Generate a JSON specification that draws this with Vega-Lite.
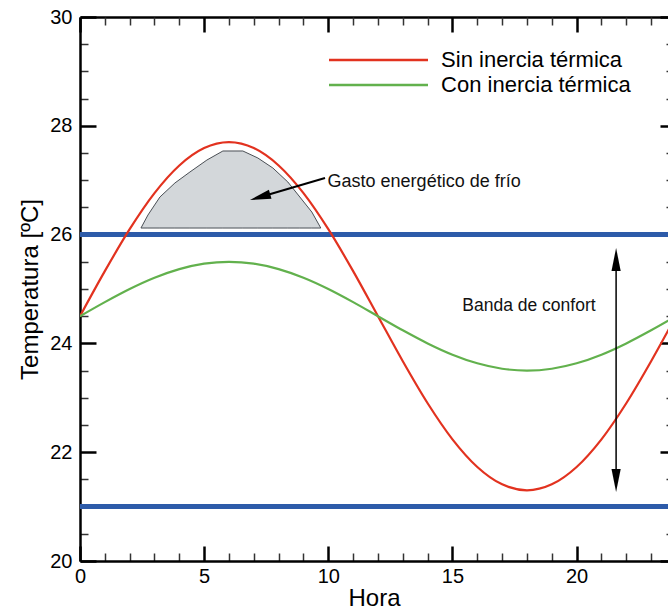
{
  "$schema": "https://vega.github.io/schema/vega-lite/v6.json",
  "width": 588,
  "height": 544,
  "autosize": {"type": "none"},
  "padding": {"left": 80, "top": 17, "right": 0, "bottom": 49},
  "background": "white",
  "config": {
    "view": {"stroke": null},
    "font": "Liberation Sans",
    "axis": {"grid": false, "labelFont": "Liberation Sans", "titleFont": "Liberation Sans", "labelColor": "black", "titleColor": "black", "domainColor": "black", "tickColor": "black", "titleFontWeight": "normal"}
  },
  "datasets": {
    "series": [
      {"hora": 0, "temp": 24.5, "serie": "Sin inercia térmica"},
      {"hora": 1, "temp": 25.328, "serie": "Sin inercia térmica"},
      {"hora": 2, "temp": 26.1, "serie": "Sin inercia térmica"},
      {"hora": 3, "temp": 26.763, "serie": "Sin inercia térmica"},
      {"hora": 4, "temp": 27.271, "serie": "Sin inercia térmica"},
      {"hora": 5, "temp": 27.591, "serie": "Sin inercia térmica"},
      {"hora": 6, "temp": 27.7, "serie": "Sin inercia térmica"},
      {"hora": 7, "temp": 27.591, "serie": "Sin inercia térmica"},
      {"hora": 8, "temp": 27.271, "serie": "Sin inercia térmica"},
      {"hora": 9, "temp": 26.763, "serie": "Sin inercia térmica"},
      {"hora": 10, "temp": 26.1, "serie": "Sin inercia térmica"},
      {"hora": 11, "temp": 25.328, "serie": "Sin inercia térmica"},
      {"hora": 12, "temp": 24.5, "serie": "Sin inercia térmica"},
      {"hora": 13, "temp": 23.672, "serie": "Sin inercia térmica"},
      {"hora": 14, "temp": 22.9, "serie": "Sin inercia térmica"},
      {"hora": 15, "temp": 22.237, "serie": "Sin inercia térmica"},
      {"hora": 16, "temp": 21.729, "serie": "Sin inercia térmica"},
      {"hora": 17, "temp": 21.409, "serie": "Sin inercia térmica"},
      {"hora": 18, "temp": 21.3, "serie": "Sin inercia térmica"},
      {"hora": 19, "temp": 21.409, "serie": "Sin inercia térmica"},
      {"hora": 20, "temp": 21.729, "serie": "Sin inercia térmica"},
      {"hora": 21, "temp": 22.237, "serie": "Sin inercia térmica"},
      {"hora": 22, "temp": 22.9, "serie": "Sin inercia térmica"},
      {"hora": 23, "temp": 23.672, "serie": "Sin inercia térmica"},
      {"hora": 24, "temp": 24.5, "serie": "Sin inercia térmica"},
      {"hora": 0, "temp": 24.5, "serie": "Con inercia térmica"},
      {"hora": 1, "temp": 24.759, "serie": "Con inercia térmica"},
      {"hora": 2, "temp": 25.0, "serie": "Con inercia térmica"},
      {"hora": 3, "temp": 25.207, "serie": "Con inercia térmica"},
      {"hora": 4, "temp": 25.366, "serie": "Con inercia térmica"},
      {"hora": 5, "temp": 25.466, "serie": "Con inercia térmica"},
      {"hora": 6, "temp": 25.5, "serie": "Con inercia térmica"},
      {"hora": 7, "temp": 25.466, "serie": "Con inercia térmica"},
      {"hora": 8, "temp": 25.366, "serie": "Con inercia térmica"},
      {"hora": 9, "temp": 25.207, "serie": "Con inercia térmica"},
      {"hora": 10, "temp": 25.0, "serie": "Con inercia térmica"},
      {"hora": 11, "temp": 24.759, "serie": "Con inercia térmica"},
      {"hora": 12, "temp": 24.5, "serie": "Con inercia térmica"},
      {"hora": 13, "temp": 24.241, "serie": "Con inercia térmica"},
      {"hora": 14, "temp": 24.0, "serie": "Con inercia térmica"},
      {"hora": 15, "temp": 23.793, "serie": "Con inercia térmica"},
      {"hora": 16, "temp": 23.634, "serie": "Con inercia térmica"},
      {"hora": 17, "temp": 23.534, "serie": "Con inercia térmica"},
      {"hora": 18, "temp": 23.5, "serie": "Con inercia térmica"},
      {"hora": 19, "temp": 23.534, "serie": "Con inercia térmica"},
      {"hora": 20, "temp": 23.634, "serie": "Con inercia térmica"},
      {"hora": 21, "temp": 23.793, "serie": "Con inercia térmica"},
      {"hora": 22, "temp": 24.0, "serie": "Con inercia térmica"},
      {"hora": 23, "temp": 24.241, "serie": "Con inercia térmica"},
      {"hora": 24, "temp": 24.5, "serie": "Con inercia térmica"}
    ],
    "gasto": [
      {"hora": 2.455, "temp": 26.121},
      {"hora": 2.736, "temp": 26.36},
      {"hora": 3.219, "temp": 26.691},
      {"hora": 3.823, "temp": 26.949},
      {"hora": 4.427, "temp": 27.151},
      {"hora": 5.111, "temp": 27.371},
      {"hora": 5.755, "temp": 27.537},
      {"hora": 6.559, "temp": 27.537},
      {"hora": 7.163, "temp": 27.408},
      {"hora": 7.767, "temp": 27.224},
      {"hora": 8.37, "temp": 26.967},
      {"hora": 8.853, "temp": 26.691},
      {"hora": 9.336, "temp": 26.415},
      {"hora": 9.698, "temp": 26.121}
    ],
    "confort": [{"limite": 26}, {"limite": 21}],
    "uno": [{"n": 1}]
  },
  "resolve": {"axis": {"x": "independent", "y": "independent"}},
  "layer": [
    {
      "data": {"name": "gasto"},
      "mark": {"type": "area", "fill": "#d3d7da", "stroke": "#4a4f55", "strokeWidth": 1, "clip": true},
      "encoding": {
        "x": {"field": "hora", "type": "quantitative", "scale": {"domain": [0, 23.68], "nice": false, "zero": false},
          "axis": {"orient": "bottom", "values": [1,2,3,4,6,7,8,9,11,12,13,14,16,17,18,19,21,22,23], "tickSize": -8, "tickWidth": 1.5, "tickColor": "#333", "labels": false, "domain": false, "title": null}},
        "y": {"field": "temp", "type": "quantitative", "scale": {"domain": [20, 30], "nice": false, "zero": false},
          "axis": {"orient": "left", "values": [20.5,21,21.5,22.5,23,23.5,24.5,25,25.5,26.5,27,27.5,28.5,29,29.5], "tickSize": -8, "tickWidth": 1.5, "tickColor": "#333", "labels": false, "domain": false, "title": null}},
        "y2": {"datum": 26.121}
      }
    },
    {
      "data": {"name": "confort"},
      "mark": {"type": "rule", "color": "#2d5ba9", "strokeWidth": 5},
      "encoding": {
        "y": {"field": "limite", "type": "quantitative", "axis": null}
      }
    },
    {
      "data": {"name": "series"},
      "mark": {"type": "line", "strokeWidth": 2.2, "interpolate": "monotone", "clip": true},
      "encoding": {
        "x": {"field": "hora", "type": "quantitative",
          "axis": {"orient": "bottom", "values": [0, 5, 10, 15, 20], "tickSize": -15, "tickWidth": 2.5, "domainWidth": 2.5, "labelFontSize": 20, "labelPadding": 20, "labelFlush": false, "labelOverlap": false, "title": "Hora", "titleFontSize": 24, "titlePadding": 0}},
        "y": {"field": "temp", "type": "quantitative",
          "axis": {"orient": "left", "values": [20, 22, 24, 26, 28, 30], "tickSize": -16, "tickWidth": 2.5, "domainWidth": 2.5, "labelFontSize": 20, "labelPadding": 24, "labelOverlap": false, "title": "Temperatura [ºC]", "titleFontSize": 24, "titlePadding": 7}},
        "color": {"field": "serie", "type": "nominal",
          "scale": {"domain": ["Sin inercia térmica", "Con inercia térmica"], "range": ["#e2321f", "#62b14d"]},
          "legend": {"orient": "none", "legendX": 287.5, "legendY": 32, "title": null, "symbolType": "M-10,0L10,0", "symbolSize": 98, "symbolStrokeWidth": 2.5, "labelFontSize": 22, "labelLimit": 400, "labelFont": "Liberation Sans", "labelColor": "black", "labelOffset": 51.6, "padding": 0, "rowPadding": 3}},
        "order": {"field": "hora", "type": "quantitative"}
      }
    },
    {
      "data": {"name": "uno"},
      "mark": {"type": "text", "text": "Gasto energético de frío", "fontSize": 18, "align": "left", "baseline": "middle", "color": "#111"},
      "encoding": {
        "x": {"datum": 9.97, "type": "quantitative",
          "axis": {"orient": "top", "values": [0, 5, 10, 15, 20], "tickSize": -15, "tickWidth": 2.5, "domainWidth": 2.5, "labels": false, "title": null}},
        "y": {"datum": 26.97, "type": "quantitative",
          "axis": {"orient": "right", "values": [20, 22, 24, 26, 28, 30], "tickSize": -8, "tickWidth": 2.5, "domain": false, "labels": false, "title": null}}
      }
    },
    {
      "data": {"name": "uno"},
      "mark": {"type": "text", "text": "Banda de confort", "fontSize": 17.5, "align": "center", "baseline": "middle", "color": "#111"},
      "encoding": {
        "x": {"datum": 18.08, "type": "quantitative",
          "axis": {"orient": "top", "values": [1,2,3,4,6,7,8,9,11,12,13,14,16,17,18,19,21,22,23], "tickSize": -8, "tickWidth": 1.5, "tickColor": "#333", "domain": false, "labels": false, "title": null}},
        "y": {"datum": 24.69, "type": "quantitative",
          "axis": {"orient": "right", "values": [20.5,21,21.5,22.5,23,23.5,24.5,25,25.5,26.5,27,27.5,28.5,29,29.5], "tickSize": -2, "tickWidth": 1.5, "tickColor": "#333", "domain": false, "labels": false, "title": null}}
      }
    },
    {
      "data": {"name": "uno"},
      "mark": {"type": "rule", "color": "black", "strokeWidth": 2},
      "encoding": {
        "x": {"datum": 9.867, "type": "quantitative", "axis": null},
        "y": {"datum": 27.04, "type": "quantitative", "axis": null},
        "x2": {"datum": 7.33},
        "y2": {"datum": 26.7}
      }
    },
    {
      "data": {"name": "uno"},
      "mark": {"type": "point", "filled": true, "color": "black", "opacity": 1, "shape": "M0,-1L0.45,1L-0.45,1Z", "size": 441, "angle": 254},
      "encoding": {
        "x": {"datum": 7.253, "type": "quantitative", "axis": null},
        "y": {"datum": 26.689, "type": "quantitative", "axis": null}
      }
    },
    {
      "data": {"name": "uno"},
      "mark": {"type": "rule", "color": "black", "strokeWidth": 1.5},
      "encoding": {
        "x": {"datum": 21.59, "type": "quantitative", "axis": null},
        "y": {"datum": 25.5, "type": "quantitative", "axis": null},
        "y2": {"datum": 21.5}
      }
    },
    {
      "data": {"name": "uno"},
      "mark": {"type": "point", "filled": true, "color": "black", "opacity": 1, "shape": "M0,-1L0.4,1L-0.4,1Z", "size": 529, "angle": 0},
      "encoding": {
        "x": {"datum": 21.59, "type": "quantitative", "axis": null},
        "y": {"datum": 25.542, "type": "quantitative", "axis": null}
      }
    },
    {
      "data": {"name": "uno"},
      "mark": {"type": "point", "filled": true, "color": "black", "opacity": 1, "shape": "M0,-1L0.4,1L-0.4,1Z", "size": 529, "angle": 180},
      "encoding": {
        "x": {"datum": 21.59, "type": "quantitative", "axis": null},
        "y": {"datum": 21.48, "type": "quantitative", "axis": null}
      }
    }
  ]
}
